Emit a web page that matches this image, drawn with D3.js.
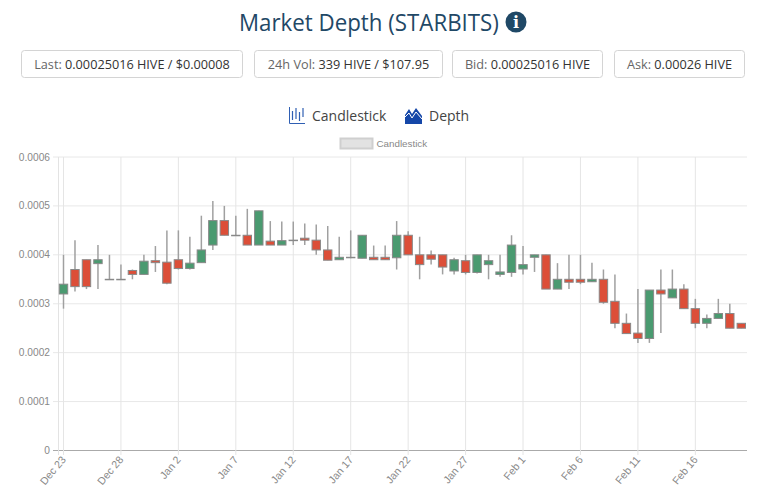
<!DOCTYPE html>
<html><head><meta charset="utf-8">
<script src="https://cdn.jsdelivr.net/npm/d3@7"></script>
<style>html,body{margin:0;padding:0;background:#fff}svg{display:block}</style>
</head><body><svg id="c" width="768" height="490"></svg>
<script>
const opens=[.00032,.00037,.00039,.000382,.00035,.00035,.000368,.00036,.000388,.000385,.00039,.000372,.000384,.00042,.00047,.00044,.00044,.00042,
.000428,.00042,.00043,.000434,.00043,.00041,.00039,.000395,.000393,.000395,.000395,.000394,.00044,.0004,.0004,.0004,.000367,.000388,.000364,.00038,.00036,
.000364,.000371,.000395,.0004,.00033,.00035,.00035,.000345,.00035,.000305,.00026,.00024,.000229,.000328,.000312,.00033,.00029,.00026,.00027,.00028,.00026];
const closes=[.00034,.000335,.000335,.00039,.00035,.00035,.00036,.000387,.000384,.000342,.000372,.000383,.00041,.00047,.00044,.00044,.00042,.00049,
.00042,.000429,.00043,.00043,.00041,.000389,.000395,.000395,.00044,.00039,.00039,.00044,.0004,.00038,.000391,.000375,.00039,.000364,.0004,.000388,.000365,
.00042,.00038,.0004,.00033,.00035,.000344,.000344,.00035,.000303,.00026,.000239,.000229,.000328,.00032,.00033,.00029,.00026,.00027,.00028,.00025,.00025];
const highs=[.0004,.00043,.00039,.00042,.0004,.00038,.00037,.0004,.000418,.00045,.00045,.000437,.00048,.00051,.0005,.00048,.000494,.00049,
.000469,.000468,.000468,.000464,.000462,.000459,.000437,.00045,.00044,.000419,.000419,.000469,.000448,.000437,.000409,.0004,.000394,.0004,.0004,.0004,.0004,
.00044,.000418,.0004,.0004,.000383,.0004,.0004,.000384,.00037,.00036,.00028,.00033,.000328,.00037,.00037,.00034,.00031,.000278,.00031,.0003,.00026];
const lows=[.00029,.000325,.00033,.00033,.00035,.00035,.00035,.00036,.000365,.00034,.00037,.00037,.000384,.00041,.00044,.00044,.00042,.00042,
.00042,.00042,.00042,.00042,.0004,.000389,.00039,.000393,.000393,.00039,.00039,.00037,.0004,.00035,.00038,.00036,.00036,.00036,.000362,.00035,.000355,
.000355,.00036,.000365,.00033,.00033,.00033,.00034,.000345,.0003,.00025,.000239,.00022,.00022,.00024,.000312,.00029,.00025,.00025,.00027,.00025,.00025];
const xTickIdx=[0,5,10,15,20,25,30,35,40,45,50,55];
const xTickLabels=["Dec 23","Dec 28","Jan 2","Jan 7","Jan 12","Jan 17","Jan 22","Jan 27","Feb 1","Feb 6","Feb 11","Feb 16"];
const yTicks=[0,.0001,.0002,.0003,.0004,.0005,.0006];
const stats=[["Last: ","0.00025016 HIVE / $0.00008",21,243],["24h Vol: ","339 HIVE / $107.95",254,443],["Bid: ","0.00025016 HIVE",452,603],["Ask: ","0.00026 HIVE",614,745]];

const svg=d3.select("#c");
const sans="'Open Sans',sans-serif", arial="'Liberation Sans',Arial,sans-serif";
const x=d3.scaleLinear().domain([0,59]).range([63.5,741.3]);
const y=d3.scaleLinear().domain([0,.0006]).range([450.5,157]);
const L=58.5,R=747;

// header
const titleEl=svg.append("text").attr("font-family",sans).attr("font-size",24).attr("font-weight",500).attr("fill","#1f4866").text("Market Depth (STARBITS)");
titleEl.attr("transform",`translate(239,31) scale(${260/titleEl.node().getComputedTextLength()},1)`);
svg.append("circle").attr("cx",516).attr("cy",22).attr("r",10.5).attr("fill","#1f4866");
svg.append("text").attr("x",516).attr("y",28).attr("text-anchor","middle").attr("font-family","'DejaVu Serif',serif").attr("font-weight",700).attr("font-size",16).attr("fill","#fff").text("i");

stats.forEach(s=>{
  svg.append("rect").attr("x",s[2]+.5).attr("y",50.5).attr("width",s[3]-s[2]-1).attr("height",27).attr("rx",3).attr("fill","#fff").attr("stroke","#d4d4d4");
  const t=svg.append("text").attr("x",(s[2]+s[3])/2).attr("y",69).attr("text-anchor","middle").attr("font-family",sans).attr("font-size",12.7);
  t.append("tspan").attr("fill","#666").text(s[0]);
  t.append("tspan").attr("fill","#333").attr("font-weight",500).text(s[1]);
});

// chart-type toggles
const ic=svg.append("g").attr("fill","none").attr("stroke","#2f5fb3");
ic.append("path").attr("d","M289.5 107V123.5H305");
[292.5,296,299.5,303].forEach((px,i)=>ic.append("path").attr("d",`M${px} ${[111,108,112,108][i]}V${[120,119,121,117][i]}`).attr("stroke-width",1.2));
svg.append("text").attr("x",312).attr("y",121).attr("font-family",sans).attr("font-size",14).attr("fill","#444").text("Candlestick");
svg.append("path").attr("d","M405 124V115L409 109L412 114L416 108L422 116V124Z").attr("fill","#1547a8");
svg.append("path").attr("d","M405 117L409 113L412 118L416 112L422 119").attr("fill","none").attr("stroke","#fff").attr("stroke-width",1);
svg.append("text").attr("x",429).attr("y",121).attr("font-family",sans).attr("font-size",14).attr("fill","#444").text("Depth");

// legend
svg.append("rect").attr("x",340.5).attr("y",138.5).attr("width",32).attr("height",10).attr("fill","#e2e2e2").attr("stroke","#cfcfcf").attr("stroke-width",2);
svg.append("text").attr("x",376.5).attr("y",147).attr("font-family",arial).attr("font-size",9.8).attr("fill","#888").text("Candlestick");

// grid
const grid=svg.append("g");
yTicks.forEach(v=>{
  grid.append("line").attr("x1",53).attr("x2",R).attr("y1",y(v)).attr("y2",y(v)).attr("stroke",v===0?"#aaa":"#e8e8e8").attr("stroke-width",v===0?1.2:1);
  svg.append("text").attr("x",50).attr("y",y(v)+3.5).attr("text-anchor","end").attr("font-family",arial).attr("font-size",10.2).attr("fill","#888").text(v===0?"0":d3.format(".4f")(v));
});
grid.append("line").attr("x1",L).attr("x2",L).attr("y1",157).attr("y2",455).attr("stroke","#e3e3e3");
xTickIdx.forEach((d,i)=>{
  grid.append("line").attr("x1",x(d)).attr("x2",x(d)).attr("y1",157).attr("y2",455).attr("stroke","#e5e5e5");
  svg.append("text").attr("transform",`translate(${x(d)+3},${460}) rotate(-50)`).attr("text-anchor","end").attr("font-family",arial).attr("font-size",10.6).attr("fill","#888").text(xTickLabels[i]);
});

// candles
const data=opens.map((o,i)=>({i,o,c:closes[i],h:highs[i],l:lows[i]}));
const g=svg.append("g").selectAll("g").data(data).join("g");
g.append("line").attr("x1",d=>x(d.i)).attr("x2",d=>x(d.i)).attr("y1",d=>y(d.h)).attr("y2",d=>y(d.l)).attr("stroke","#a0a0a0").attr("stroke-width",1.5);
g.append("rect").attr("x",d=>x(d.i)-4.2).attr("width",8.4)
 .attr("y",d=>y(Math.max(d.o,d.c))).attr("height",d=>Math.max(.5,Math.abs(y(d.o)-y(d.c))))
 .attr("fill",d=>d.c>=d.o?"#4a9a70":"#dc4e38").attr("stroke","#888").attr("stroke-width",1);
</script></body></html>
